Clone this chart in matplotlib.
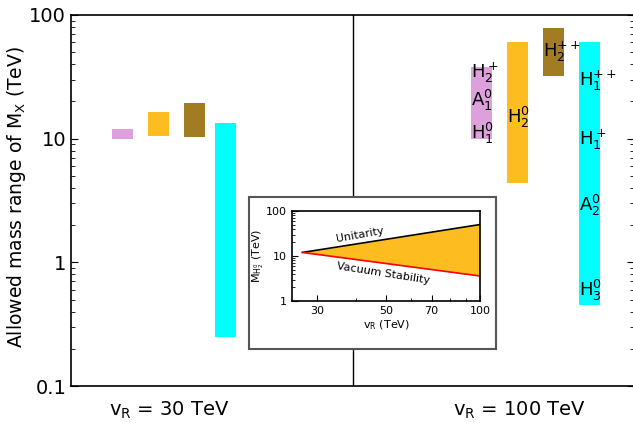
import numpy as np
import matplotlib
matplotlib.use("Agg")
import matplotlib.pyplot as plt
from matplotlib.patches import Rectangle
from matplotlib.ticker import FixedLocator, NullFormatter

plt.rcParams['font.family'] = ['DejaVu Sans']
plt.rcParams['mathtext.default'] = 'regular'

# allowed mass ranges (TeV): lower, upper, for v_R = 30 and 100 TeV
groups = ["$v_R$ = 30 TeV", "$v_R$ = 100 TeV"]
colors = ["#dda0dd", "#fdbd21", "#a27c22", "#00ffff"]
low_30 = [10.0, 10.6, 10.4, 0.25]
high_30 = [12.0, 16.5, 19.5, 13.5]
low_100 = [10.0, 4.35, 32.3, 0.45]
high_100 = [38.0, 60.0, 79.0, 60.0]

# particle labels on the v_R = 100 TeV bars: (bar index, text, y value)
label_bar = [0, 0, 0, 1, 2, 3, 3, 3, 3]
label_text = ["$H_2^+$", "$A_1^0$", "$H_1^0$", "$H_2^0$", "$H_2^{++}$",
              "$H_1^{++}$", "$H_1^+$", "$A_2^0$", "$H_3^0$"]
label_y = [34.0, 20.4, 11.0, 14.9, 50.0, 29.6, 9.7, 2.9, 0.59]

# inset: M_H2^0 band vs v_R
vR_pts = [27, 100]
unitarity = [12.0, 50.0]
vacuum = [12.0, 3.6]

fig = plt.figure(figsize=(6.33, 4.23), dpi=100)
ax = fig.add_axes([71 / 633, 1 - 386 / 423, 563 / 633, 371 / 423])

bw = 0.075
x30 = [0.183, 0.311, 0.439, 0.549]
x100 = [1.458, 1.586, 1.714, 1.842]
for x, lo, hi, c in zip(x30, low_30, high_30, colors):
    ax.bar(x, hi - lo, bottom=lo, width=bw, color=c, edgecolor='none', zorder=2)
for x, lo, hi, c in zip(x100, low_100, high_100, colors):
    ax.bar(x, hi - lo, bottom=lo, width=bw, color=c, edgecolor='none', zorder=2)

for b, t, y in zip(label_bar, label_text, label_y):
    ax.text(x100[b] - bw / 2, y, t, fontsize=13, ha='left', va='center', zorder=3)

ax.axvline(1.0, color='black', lw=1.0, zorder=1)
ax.set_yscale('log')
ax.set_ylim(0.1, 100)
ax.set_xlim(0, 2)
ax.set_yticks([0.1, 1, 10, 100])
ax.set_yticklabels(["0.1", "1", "10", "100"])
ax.set_xticks([0.35, 1.595])
ax.set_xticklabels(groups, fontsize=14)
ax.tick_params(axis='x', length=0, pad=10)
ax.tick_params(axis='y', which='both', direction='in', right=True, labelsize=14)
ax.tick_params(axis='y', which='major', length=5)
ax.tick_params(axis='y', which='minor', length=3)
ax.set_ylabel("Allowed mass range of $M_X$ (TeV)", fontsize=13.5)
ax.yaxis.set_label_coords(-0.076, 0.51)
for s in ax.spines.values():
    s.set_linewidth(1.2)

# inset frame
fig.patches.append(Rectangle((249 / 633, 1 - 349 / 423), 247 / 633, 152 / 423,
                             transform=fig.transFigure, facecolor='white',
                             edgecolor='#555555', lw=1.5, zorder=5))

axi = fig.add_axes([292 / 633, 1 - 301 / 423, 188 / 633, 90 / 423], zorder=6)
axi.set_xscale('log')
axi.set_yscale('log')
axi.fill_between(vR_pts, vacuum, unitarity, color='#fdbd21', lw=0)
axi.plot(vR_pts, unitarity, color='black', lw=1.2)
axi.plot(vR_pts, vacuum, color='red', lw=1.2)
axi.set_xlim(25, 100)
axi.set_ylim(1, 100)
axi.xaxis.set_major_locator(FixedLocator([30, 50, 70, 100]))
axi.xaxis.set_minor_locator(FixedLocator([40, 60, 80, 90]))
axi.xaxis.set_minor_formatter(NullFormatter())
axi.set_xticklabels(["30", "50", "70", "100"])
axi.set_yticks([1, 10, 100])
axi.set_yticklabels(["1", "10", "100"])
axi.tick_params(which='both', direction='in', labelsize=8)
axi.tick_params(which='major', length=4)
axi.tick_params(which='minor', length=2)
axi.set_xlabel("$v_R$ (TeV)", fontsize=8, labelpad=2)
axi.set_ylabel("$M_{H_2^0}$ (TeV)", fontsize=8, labelpad=0)
axi.text(41.3, 29.3, "Unitarity", fontsize=8, rotation=10, ha='center', va='center')
axi.text(49, 4.2, "Vacuum Stability", fontsize=8, rotation=-9, ha='center', va='center')
for s in axi.spines.values():
    s.set_linewidth(1.2)

fig.savefig("out.png", dpi=100)
